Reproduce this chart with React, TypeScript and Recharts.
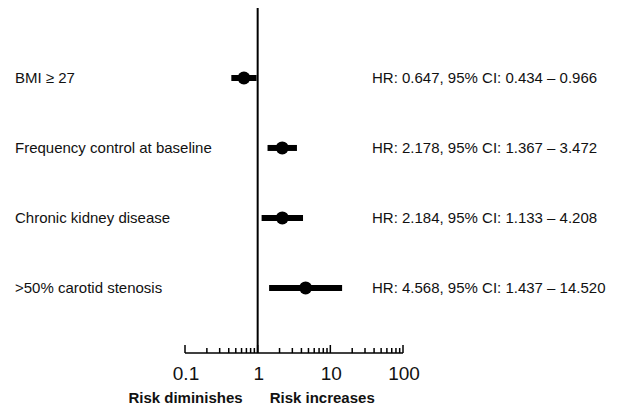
import { ScatterChart, Scatter, XAxis, YAxis, ReferenceLine } from 'recharts';

const factors = ['BMI \u2265 27', 'Frequency control at baseline', 'Chronic kidney disease', '>50% carotid stenosis'];
const hr = [0.647, 2.178, 2.184, 4.568];
const ciLow = [0.434, 1.367, 1.133, 1.437];
const ciHigh = [0.966, 3.472, 4.208, 14.52];
const rows = [1, 2, 3, 4];
const majorTicks = [0.1, 1, 10, 100];
const allTicks = [
  0.1, 0.2, 0.3, 0.4, 0.5, 0.6, 0.7, 0.8, 0.9,
  1, 2, 3, 4, 5, 6, 7, 8, 9,
  10, 20, 30, 40, 50, 60, 70, 80, 90, 100,
];

const fmt = (v: number) => v.toFixed(3);
const hrText = factors.map(
  (_, i) => `HR: ${fmt(hr[i])}, 95% CI: ${fmt(ciLow[i])} \u2013 ${fmt(ciHigh[i])}`
);
const points = factors.map((f, i) => ({ name: f, hr: hr[i], row: rows[i] }));

const font = 'Helvetica, "Liberation Sans", Arial, sans-serif';

function XTick(props: any) {
  const { x, y, payload } = props;
  const v = payload.value;
  const major = majorTicks.some((m) => Math.abs(m - v) < 1e-9);
  return (
    <g>
      <line x1={x} x2={x} y1={y} y2={y - (major ? 8 : 5)} stroke="#000" strokeWidth={1.5} />
      {major && (
        <text x={x + 1} y={y + 27} textAnchor="middle" fontSize={19} fontFamily={font} fill="#111">
          {v}
        </text>
      )}
      {v === 1 && (
        <>
          <text x={x - 15} y={y + 50} textAnchor="end" fontSize={15} fontWeight="bold" fontFamily={font} fill="#111">
            Risk diminishes
          </text>
          <text x={x + 12} y={y + 50} textAnchor="start" fontSize={15} fontWeight="bold" fontFamily={font} fill="#111">
            Risk increases
          </text>
        </>
      )}
    </g>
  );
}

function YTick(props: any) {
  const { y, payload } = props;
  const i = rows.indexOf(payload.value);
  if (i < 0) return null;
  return (
    <g>
      <text x={7} y={y} dy={5} textAnchor="start" fontSize={15} fontFamily={font} fill="#111">
        {factors[i]}
      </text>
      <text x={364} y={y} dy={5} textAnchor="start" fontSize={15} fontFamily={font} fill="#111">
        {hrText[i]}
      </text>
    </g>
  );
}

export default function App() {
  return (
    <ScatterChart width={604} height={399} margin={{ top: 0, right: 209, bottom: 0, left: 0 }}>
      <XAxis
        type="number"
        dataKey="hr"
        scale="log"
        domain={[0.1, 100]}
        ticks={allTicks}
        interval={0}
        tick={<XTick />}
        tickLine={false}
        tickSize={0}
        tickMargin={0}
        axisLine={{ stroke: '#000', strokeWidth: 1.5 }}
        height={54}
        allowDataOverflow
      />
      <YAxis
        type="number"
        dataKey="row"
        domain={[0, 4.93]}
        allowDataOverflow
        reversed
        ticks={rows}
        interval={0}
        tick={<YTick />}
        axisLine={false}
        tickLine={false}
        width={177}
      />
      <ReferenceLine x={1} stroke="#000" strokeWidth={2} />
      {points.map((p, i) => (
        <ReferenceLine
          key={p.name}
          segment={[
            { x: ciLow[i], y: p.row },
            { x: ciHigh[i], y: p.row },
          ]}
          stroke="#000"
          strokeWidth={6}
        />
      ))}
      <Scatter data={points} fill="#000" isAnimationActive={false} shape={(s: any) => <circle cx={s.cx} cy={s.cy} r={6.5} fill="#000" />} />
    </ScatterChart>
  );
}
